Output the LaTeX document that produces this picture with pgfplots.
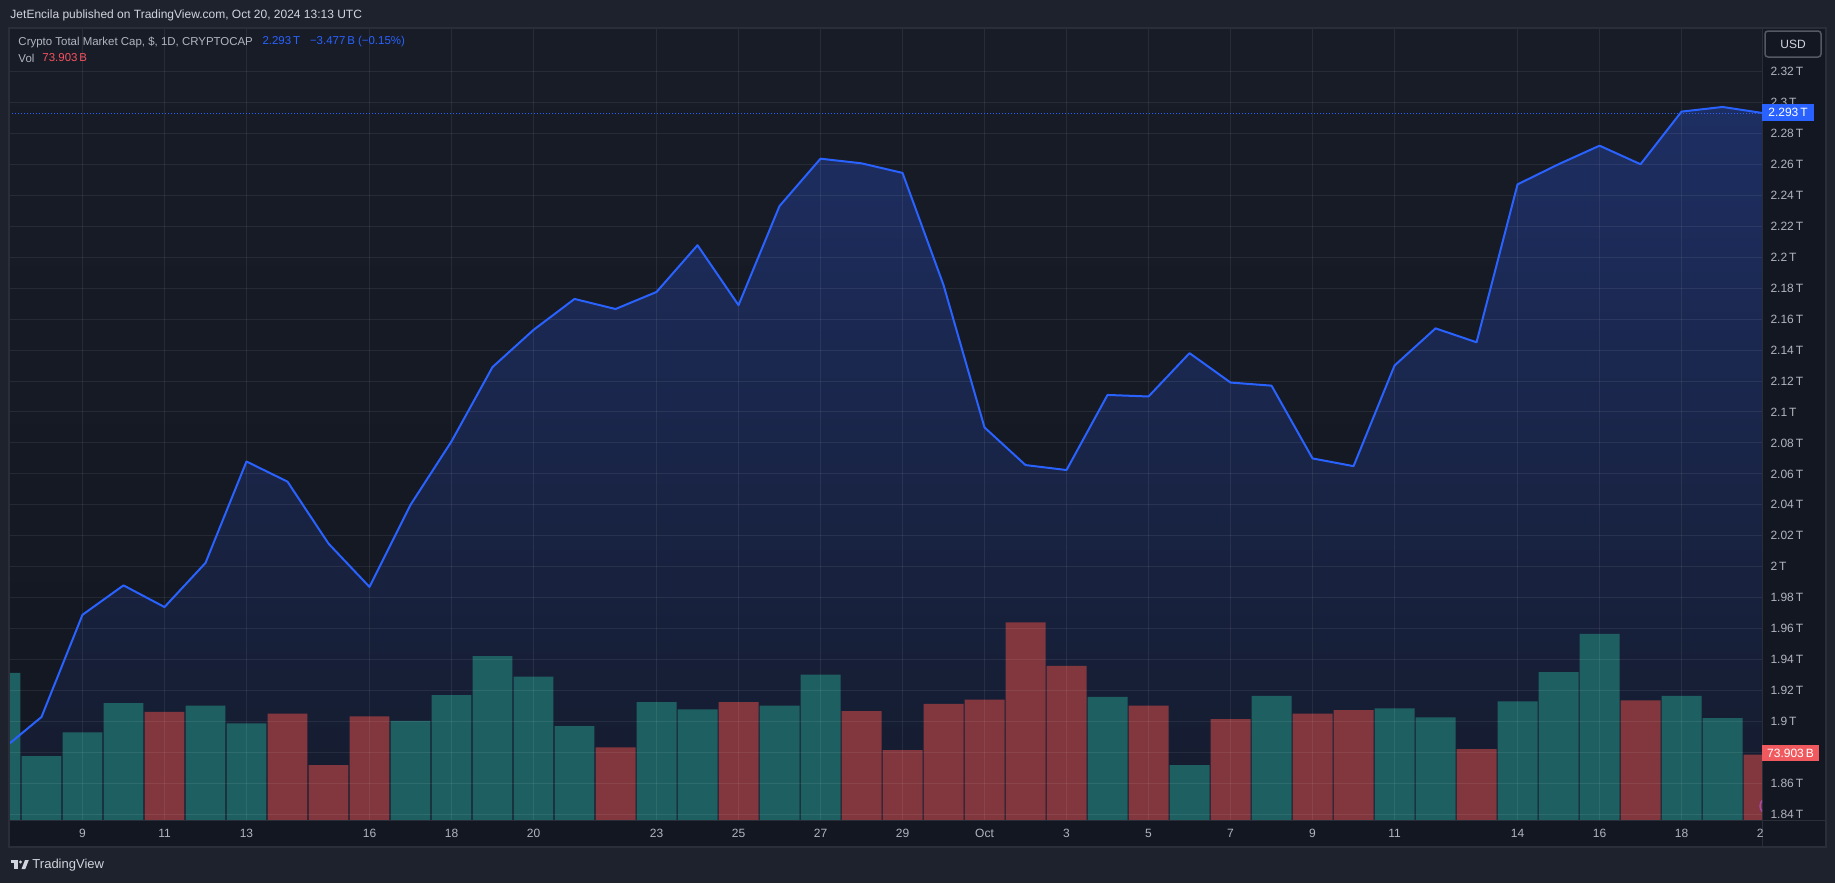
\documentclass[border=0pt]{standalone}
\usepackage{fontspec}
\setmainfont{Liberation Sans}
\usepackage{pgfplots}
\usepackage{pgfplotstable}
\pgfplotsset{compat=1.18}

\definecolor{outerbg}{HTML}{1E222D}
\definecolor{panelbg}{HTML}{131722}
\definecolor{plottop}{HTML}{181C27}
\definecolor{sep}{HTML}{2A2E39}
\definecolor{tvblue}{HTML}{2962FF}
\definecolor{txt}{HTML}{D1D4DC}
\definecolor{txtb}{HTML}{B2B5BE}
\definecolor{volup}{RGB}{30,96,98}
\definecolor{voldn}{RGB}{130,55,62}
\definecolor{tvred}{HTML}{F7525F}
\definecolor{redbox}{HTML}{F05A5E}
\definecolor{areatop}{RGB}{29,46,98}
\definecolor{areabot}{RGB}{21,27,44}

% day index: Sept d = d, Oct d = 30+d
\pgfplotstableread{
d p
7 1.881
8 1.903
9 1.969
10 1.988
11 1.974
12 2.0025
13 2.068
14 2.055
15 2.015
16 1.987
17 2.040
18 2.081
19 2.129
20 2.153
21 2.173
22 2.1665
23 2.1775
24 2.2077
25 2.169
26 2.233
27 2.2636
28 2.2606
29 2.2544
30 2.182
31 2.090
32 2.0657
33 2.0625
34 2.111
35 2.110
36 2.138
37 2.119
38 2.117
39 2.070
40 2.065
41 2.130
42 2.154
43 2.145
44 2.247
45 2.260
46 2.272
47 2.260
48 2.294
49 2.297
50 2.293
}\price

\pgfplotstableread{
d v
7 166
8 72
9 99
10 132
12 129
13 109
17 112
18 141
19 185
20 162
21 106
23 133
24 125
26 129
27 164
34 139
36 62
38 140
41 126
42 116
44 134
45 167
46 210
48 140
49 115
}\volup

\pgfplotstableread{
d v
11 122
14 120
15 62
16 117
22 82
25 133
28 123
29 79
30 131
31 136
32 223
33 174
35 129
37 114
39 120
40 124
43 80
47 135
50 73.903
}\voldn

\pgfplotsset{
  tvaxis/.style={
    at={(4pt,25.2pt)}, anchor=south west,
    width=700.8pt, height=316.8pt, scale only axis,
    xmin=7.232, xmax=49.963,
  },
}

\begin{document}
\begin{tikzpicture}
% ---------- background (pixel coordinates, y downward) ----------
\begin{scope}[x=0.4pt,y=-0.4pt,yshift=353.2pt]
  \fill[outerbg] (0,0) rectangle (1835,883);
  \fill[panelbg] (9,28) rectangle (1826,847);
  \shade[top color=plottop, bottom color=panelbg] (10,28) rectangle (1762,820);
\end{scope}

% ---------- area under price ----------
\begin{axis}[tvaxis, hide axis, ymin=1.83645, ymax=2.348]
  \addplot[draw=none, top color=areatop, bottom color=areabot]
    table[x=d,y=p] {\price} -- (axis cs:50,1.83645) -- (axis cs:7,1.83645) -- cycle;
\end{axis}

% ---------- volume ----------
\begin{axis}[tvaxis, hide axis, ymin=0, ymax=894]
  \addplot[ybar, bar width=0.975, bar shift=0pt, fill=volup, draw=none]
    table[x=d,y=v] {\volup};
  \addplot[ybar, bar width=0.975, bar shift=0pt, fill=voldn, draw=none]
    table[x=d,y=v] {\voldn};
\end{axis}

% ---------- price line, grid, ticks ----------
\begin{axis}[tvaxis, ymin=1.83645, ymax=2.348,
  axis line style={draw=none}, tick style={draw=none},
  xtick={9,11,13,16,18,20,23,25,27,29,31,33,35,37,39,41,44,46,48,50},
  xticklabels={9,11,13,16,18,20,23,25,27,29,Oct,3,5,7,9,11,14,16,18,},
  ytick={1.84,1.86,1.88,1.90,1.92,1.94,1.96,1.98,2.00,2.02,2.04,2.06,2.08,2.10,2.12,2.14,2.16,2.18,2.20,2.22,2.24,2.26,2.28,2.30,2.32},
  yticklabels={1.84\,T,1.86\,T,,1.9\,T,1.92\,T,1.94\,T,1.96\,T,1.98\,T,2\,T,2.02\,T,2.04\,T,2.06\,T,2.08\,T,2.1\,T,2.12\,T,2.14\,T,2.16\,T,2.18\,T,2.2\,T,2.22\,T,2.24\,T,2.26\,T,2.28\,T,2.3\,T,2.32\,T},
  yticklabel pos=right,
  ticklabel style={font=\fontsize{4.8}{5.8}\selectfont, text=txtb},
  yticklabel style={anchor=west, inner sep=0pt, xshift=3.2pt},
  xticklabel style={anchor=base, inner sep=0pt, yshift=-6.8pt},
  grid=major, major grid style={white, opacity=0.07, line width=0.4pt},
]
  \addplot[tvblue, line width=0.4pt, dash pattern=on 0.4pt off 0.8pt, forget plot]
    coordinates {(7,2.293) (50,2.293)};
  \addplot[tvblue, line width=0.8pt, line join=round] table[x=d,y=p] {\price};
\end{axis}

% ---------- overlays ----------
\begin{scope}[x=0.4pt,y=-0.4pt,yshift=353.2pt,
  every node/.style={font=\fontsize{4.8}{5.8}\selectfont, inner sep=0pt}]
  \draw[sep, line width=0.4pt] (1762,28) -- (1762,847);
  \draw[sep, line width=0.4pt] (9,820) -- (1826,820);
  \draw[sep, line width=0.6pt] (9,28) rectangle (1826,847);
  % clipped last date label and marker
  \begin{scope}
    \clip (10,28) rectangle (1762,847);
    \node[text=txtb, anchor=base] at (1763.5,837) {20};
    \draw[color=violet!70!white, line width=0.6pt] (1768,806) circle (8);
  \end{scope}
  % price box
  \fill[tvblue] (1762,104) rectangle (1814,121);
  \node[text=white] at (1788,112.5) {2.293\,T};
  % volume box
  \fill[redbox] (1762,745) rectangle (1819,761);
  \node[text=white] at (1790.5,753) {73.903\,B};
  % USD box
  \draw[fill=panelbg, draw=sep!80!white, line width=0.6pt, rounded corners=1.2pt] (1765,31) rectangle (1821,57);
  \node[text=txt] at (1793,44) {USD};
  % header
  \node[anchor=west, text=txt, font=\fontsize{4.8}{6}\selectfont] at (10,15) {JetEncila published on TradingView.com, Oct 20, 2024 13:13 UTC};
  % legend
  \node[anchor=west, text=txtb, font=\fontsize{4.58}{5.6}\selectfont] at (18,42) {Crypto Total Market Cap, \$, 1D, CRYPTOCAP};
  \node[anchor=west, text=tvblue, font=\fontsize{4.58}{5.6}\selectfont] at (262,42) {2.293\,T\hspace{4pt}−3.477\,B (−0.15\%)};
  \node[anchor=west, text=txtb, font=\fontsize{4.58}{5.6}\selectfont] at (18,58) {Vol};
  \node[anchor=west, text=tvred, font=\fontsize{4.58}{5.6}\selectfont] at (42,58) {73.903\,B};
  % logo
  \fill[txt] (10.5,860) rectangle (17.5,863.2);
  \fill[txt] (14,860) rectangle (17.5,869);
  \fill[txt] (20.5,862) circle (1.7);
  \fill[txt] (21.5,869) -- (25,860) -- (28.8,860) -- (25.3,869) -- cycle;
  \node[anchor=west, text=txt, font=\fontsize{5.2}{6}\selectfont] at (32,865) {TradingView};
\end{scope}
\end{tikzpicture}
\end{document}
